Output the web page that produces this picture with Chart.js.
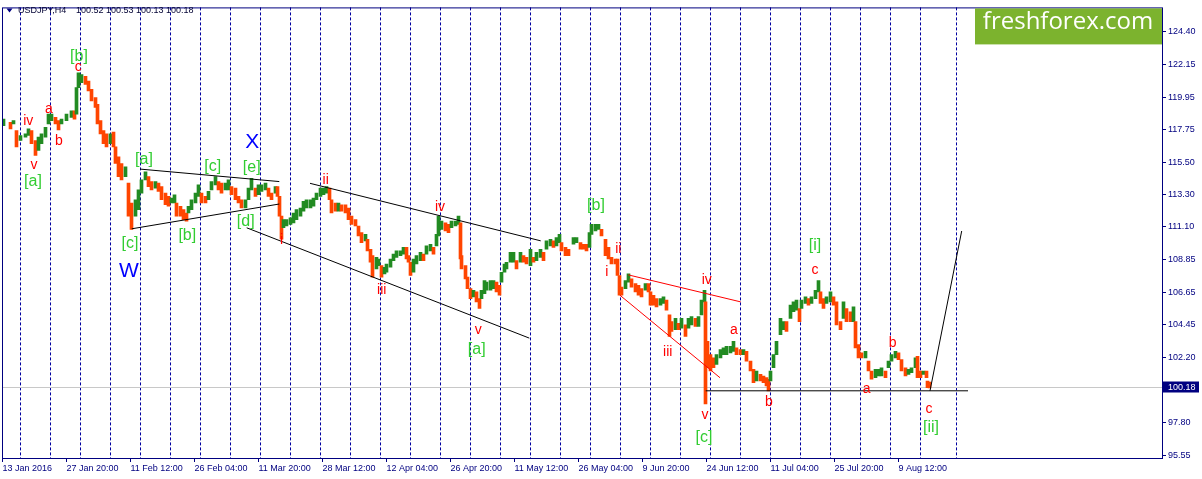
<!DOCTYPE html>
<html>
<head>
<meta charset="utf-8">
<title>USDJPY,H4</title>
<script src="https://cdn.jsdelivr.net/npm/chart.js@4.4.1/dist/chart.umd.min.js"></script>
<style>
  html, body { margin: 0; padding: 0; background: #fff; }
  #wrap { width: 1202px; height: 479px; }
</style>
</head>
<body>
<div id="wrap"><canvas id="myChart" width="1202" height="479"></canvas></div>
<script>
const ctx = document.getElementById('myChart').getContext('2d');

const symbol = 'USDJPY,H4';
// open, high, low, close of the last bar
const lastQuote = [100.52, 100.53, 100.13, 100.18];

// H4 bar number of each sampled stretch of candles, with its high and low
const barIdx = [
  1, 8, 11, 14, 18, 23, 26, 29, 33, 36, 39, 43, 46, 49, 53, 56, 59, 64, 69, 72,
  74, 76, 79, 83, 86, 89, 93, 95, 98, 101, 104, 108, 111, 113, 116, 119, 123, 126, 129, 133,
  136, 139, 143, 146, 149, 153, 156, 159, 163, 166, 169, 172, 174, 178, 181, 184, 186, 189, 193, 196,
  199, 203, 206, 209, 213, 216, 219, 223, 226, 229, 233, 236, 239, 243, 246, 249, 253, 256, 259, 263,
  266, 269, 273, 275, 277, 279, 281, 284, 288, 291, 294, 298, 301, 304, 308, 311, 314, 318, 321, 324,
  327, 329, 333, 336, 339, 343, 346, 349, 353, 356, 359, 363, 365, 368, 370, 374, 376, 379, 382, 384,
  388, 391, 394, 398, 401, 404, 406, 408, 411, 414, 418, 421, 424, 428, 431, 434, 436, 439, 443, 446,
  449, 453, 456, 458, 459, 463, 465, 468, 471, 474, 477, 479, 482, 484, 488, 491, 494, 497, 499, 502,
  504, 508, 511, 514, 518, 521, 524, 528, 531, 534, 538, 541, 544, 548, 551, 554, 557, 559, 563, 566,
  571, 574, 578, 581, 584, 587, 589, 593, 596, 599, 603, 606, 609, 613, 615, 617, 619, 623, 626, 629,
  633, 636, 639, 643, 646, 648, 651, 654, 658, 661, 664, 667, 669, 673, 676, 679, 683, 686, 689, 693,
  696, 699, 702, 703, 705, 708, 711, 714, 718, 721, 724, 728, 731, 734, 738, 741, 744, 748, 751, 754,
  758, 761, 764, 766, 768, 771, 774, 778, 781, 784, 788, 791, 794, 797, 799, 803, 806, 809, 813, 816,
  818, 821, 824, 828, 831, 834, 838, 841, 844, 848, 851, 853, 856, 859, 863, 866, 869, 873, 876, 879,
  883, 886, 889, 893, 896, 899, 903, 906, 909, 913, 915, 918, 921, 924, 925, 927
];
const highs = [
  118.45, 118.23, 118.34, 117.67, 117.33, 117.44, 117.78, 117.67, 116.99, 117.22, 117.44, 117.89, 118.79, 118.79, 118.57, 118.34, 118.45, 118.79, 119.01, 119.01,
  120.59, 121.60, 121.48, 121.37, 121.03, 120.47, 119.91, 119.46, 118.34, 117.67, 117.44, 117.44, 117.56, 116.55, 115.87, 115.42, 115.20, 114.08, 112.73, 112.95,
  113.62, 114.30, 114.86, 114.53, 114.19, 114.19, 114.08, 113.85, 113.40, 113.18, 113.07, 113.29, 112.73, 112.51, 112.28, 112.05, 112.51, 112.95, 113.40, 113.96,
  113.40, 113.18, 113.52, 114.19, 114.53, 114.19, 114.08, 114.08, 114.30, 113.85, 113.74, 113.18, 112.95, 112.95, 113.74, 114.41, 113.74, 113.96, 113.96, 114.08,
  113.74, 113.40, 113.85, 113.85, 113.18, 111.83, 111.60, 111.60, 111.72, 112.05, 112.28, 112.39, 112.84, 112.95, 112.95, 113.07, 113.40, 113.74, 113.74, 113.85,
  113.74, 112.95, 112.73, 112.73, 112.61, 112.61, 112.39, 111.83, 111.60, 111.16, 110.71, 110.59, 110.26, 109.58, 109.14, 109.02, 108.91, 108.46, 108.35, 108.57,
  108.91, 109.25, 109.47, 109.47, 109.70, 109.70, 109.14, 108.69, 108.91, 109.14, 109.36, 109.25, 109.81, 109.92, 109.70, 110.59, 111.83, 111.49, 111.38, 111.27,
  111.49, 111.49, 111.83, 111.38, 109.14, 108.46, 107.68, 106.89, 106.78, 106.67, 106.21, 106.78, 107.45, 107.34, 107.45, 107.45, 107.34, 107.12, 108.01, 108.57,
  108.69, 109.36, 109.36, 108.80, 109.36, 109.14, 109.02, 109.58, 109.02, 109.36, 109.58, 109.36, 110.15, 110.26, 110.15, 110.37, 110.59, 110.03, 109.70, 109.58,
  110.37, 110.37, 110.03, 109.92, 109.92, 110.71, 111.27, 111.27, 111.27, 110.93, 110.26, 109.70, 109.02, 108.91, 108.91, 107.79, 107.00, 107.45, 107.90, 107.56,
  107.23, 107.12, 106.89, 107.23, 107.23, 106.67, 106.44, 106.21, 106.21, 106.33, 106.11, 105.10, 104.64, 104.87, 104.53, 104.87, 104.42, 104.87, 104.98, 104.87,
  104.98, 106.11, 106.78, 105.99, 103.30, 102.40, 102.17, 102.40, 102.74, 102.85, 102.96, 102.96, 103.30, 102.85, 102.74, 102.74, 102.62, 101.95, 101.39, 101.28,
  101.05, 100.94, 100.83, 100.72, 101.28, 102.40, 103.30, 104.87, 104.64, 104.64, 105.77, 105.99, 106.11, 105.54, 106.11, 106.33, 106.21, 106.33, 106.78, 107.45,
  106.67, 106.21, 106.33, 106.67, 106.33, 105.99, 104.64, 105.99, 105.54, 105.32, 105.65, 104.64, 103.08, 102.51, 102.62, 101.95, 101.28, 101.39, 101.39, 101.50,
  101.28, 101.95, 102.40, 102.62, 102.51, 102.06, 101.50, 101.39, 101.50, 102.17, 102.28, 101.28, 101.28, 101.28, 100.60, 100.53
];
const lows = [
  118.00, 117.78, 118.12, 116.55, 116.99, 117.22, 117.33, 116.77, 115.98, 116.32, 116.77, 117.22, 118.12, 118.34, 118.12, 117.71, 118.12, 118.34, 118.57, 118.45,
  118.79, 120.59, 120.93, 120.81, 120.36, 119.69, 119.24, 118.12, 117.44, 116.77, 116.55, 116.77, 116.55, 115.42, 114.53, 114.30, 114.53, 111.83, 110.93, 111.83,
  112.28, 113.40, 114.30, 113.85, 113.62, 113.74, 113.52, 112.95, 112.61, 112.51, 112.73, 112.73, 111.83, 111.83, 111.60, 111.49, 112.05, 112.28, 112.73, 113.18,
  112.73, 112.73, 112.95, 113.62, 113.96, 113.62, 113.40, 113.62, 113.62, 113.29, 112.95, 112.73, 112.39, 112.39, 112.95, 113.62, 113.18, 113.29, 113.52, 113.62,
  113.18, 112.95, 113.40, 113.18, 111.83, 110.26, 111.04, 111.16, 111.27, 111.38, 111.60, 111.83, 112.17, 112.39, 112.39, 112.51, 112.95, 113.18, 113.29, 113.40,
  112.95, 112.05, 112.17, 112.17, 112.17, 112.05, 111.60, 111.27, 111.16, 110.48, 110.03, 110.15, 109.47, 108.69, 107.68, 108.24, 108.46, 107.68, 107.90, 108.01,
  108.35, 108.80, 109.02, 109.14, 109.25, 108.91, 108.69, 107.79, 108.01, 108.57, 108.80, 108.80, 109.25, 109.47, 109.25, 109.81, 110.48, 110.93, 110.82, 110.71,
  111.04, 111.16, 111.27, 108.91, 108.24, 107.56, 106.89, 106.21, 106.33, 105.99, 105.54, 106.21, 106.55, 106.78, 106.78, 106.89, 106.67, 106.44, 107.34, 108.01,
  108.24, 108.69, 108.69, 108.24, 108.69, 108.69, 108.57, 108.46, 108.69, 108.80, 109.02, 108.80, 109.58, 109.81, 109.70, 109.81, 110.03, 109.47, 109.14, 109.14,
  109.92, 110.03, 109.58, 109.58, 109.47, 109.70, 110.59, 110.82, 110.93, 110.48, 109.14, 108.91, 108.57, 108.57, 107.79, 106.44, 106.44, 106.89, 107.34, 107.00,
  106.67, 106.44, 106.33, 106.78, 106.67, 105.77, 105.77, 105.65, 105.77, 105.88, 105.43, 103.63, 103.97, 104.09, 104.09, 104.19, 103.63, 104.19, 104.42, 104.31,
  104.31, 105.10, 105.99, 99.03, 101.50, 101.28, 101.50, 101.73, 102.17, 102.40, 102.40, 102.51, 102.62, 102.40, 102.40, 102.40, 101.95, 101.28, 100.49, 100.60,
  100.60, 100.49, 100.27, 99.93, 100.60, 101.50, 102.40, 103.75, 104.09, 103.97, 104.87, 105.32, 105.43, 104.64, 105.54, 105.88, 105.77, 105.88, 106.21, 106.67,
  105.88, 105.54, 105.88, 105.99, 105.77, 104.42, 104.09, 104.87, 104.64, 104.64, 104.64, 102.85, 102.17, 102.17, 102.17, 101.28, 100.72, 100.83, 100.94, 100.94,
  100.83, 101.50, 101.95, 102.17, 102.06, 101.28, 100.94, 101.05, 101.16, 101.50, 100.83, 100.83, 101.05, 100.83, 100.15, 100.13
];

const timeTicks = [0, 64, 128, 192, 256, 320, 384, 448, 512, 576, 640, 704, 768, 832, 896];
const timeLabels = ['13 Jan 2016', '27 Jan 20:00', '11 Feb 12:00', '26 Feb 04:00', '11 Mar 20:00',
  '28 Mar 12:00', '12 Apr 04:00', '26 Apr 20:00', '11 May 12:00', '26 May 04:00',
  '9 Jun 20:00', '24 Jun 12:00', '11 Jul 04:00', '25 Jul 20:00', '9 Aug 12:00'];
const priceTicks = [124.40, 122.15, 119.95, 117.75, 115.50, 113.30, 111.10, 108.85,
  106.65, 104.45, 102.20, 100.00, 97.80, 95.55];
// bars where a new week starts (period separators)
const weekStarts = [18, 48, 78, 108, 138, 168, 198, 228, 258, 288, 318, 348, 378, 408, 438, 468,
  498, 528, 558, 588, 618, 648, 678, 708, 738, 768, 798, 828, 858, 888, 918, 954];

// wave marks: text, bar, price
const minorWaves = [
  ['iv', 25.8, 118.34], ['a', 46.5, 119.13], ['v', 31.5, 115.29], ['b', 56.5, 116.97],
  ['c', 75.8, 121.97], ['i', 279, 110.17], ['ii', 323.2, 114.30], ['iii', 379.2, 106.78],
  ['iv', 437.5, 112.44], ['v', 475.8, 104.08], ['ii', 615.8, 109.58], ['i', 604.2, 108.01],
  ['iv', 704.2, 107.45], ['iii', 665.2, 102.58], ['a', 731.5, 104.08], ['v', 702.5, 98.24],
  ['b', 766.5, 99.14], ['c', 812.5, 108.13], ['a', 864.2, 100.04], ['b', 890.2, 103.18],
  ['c', 926.5, 98.70]
];
const majorWaves = [
  ['[a]', 30.5, 114.21], ['[b]', 76.5, 122.72], ['[a]', 141.5, 115.69], ['[c]', 210.2, 115.24],
  ['[e]', 249.2, 115.13], ['[d]', 243.2, 111.49], ['[b]', 184.8, 110.48], ['[c]', 127.5, 109.96],
  ['[a]', 474.2, 102.74], ['[b]', 593.5, 112.57], ['[c]', 701.5, 96.76], ['[i]', 812.5, 109.81],
  ['[ii]', 928.5, 97.42]
];
const cycleWaves = [['W', 126.5, 108.08], ['X', 249.8, 116.88]];

// trend lines: bar1, price1, bar2, price2
const blackLines = [
  [137.5, 115.04, 276.8, 114.19],
  [129.2, 110.97, 276.8, 112.66],
  [244.2, 111.04, 526.8, 103.52],
  [307.5, 114.07, 538.2, 110.15],
  [703.2, 99.93, 965.5, 99.93],
  [927.5, 99.93, 959.2, 110.82]
];
const redLines = [
  [625.8, 107.83, 738.2, 105.99],
  [617.5, 106.44, 717.5, 100.82]
];

const UP = '#228b22';
const DOWN = '#ff4500';
const NAVY = '#000080';
const FONT = "'Liberation Sans', Arial, sans-serif";

const candles = barIdx.map((b, i) => ({ x: b, y: [lows[i], highs[i]] }));
const mids = barIdx.map((b, i) => (lows[i] + highs[i]) / 2);
const candleColors = mids.map((m, i) => (i === 0 || m >= mids[i - 1]) ? UP : DOWN);

const lineSet = (seg, color) => ({
  type: 'line',
  data: [{ x: seg[0], y: seg[1] }, { x: seg[2], y: seg[3] }],
  borderColor: color,
  borderWidth: 1,
  pointRadius: 0,
  fill: false,
  order: 1
});

const mt4Decor = {
  id: 'mt4Decor',
  beforeDraw(chart) {
    const c = chart.ctx;
    c.save();
    c.fillStyle = '#fff';
    c.fillRect(0, 0, chart.width, chart.height);
    c.restore();
  },
  beforeDatasetsDraw(chart) {
    const { ctx: c, chartArea: a, scales: { x, y } } = chart;
    c.save();
    c.strokeStyle = '#0000a0';
    c.lineWidth = 1;
    c.setLineDash([3, 2]);
    weekStarts.forEach(b => {
      const px = Math.floor(x.getPixelForValue(b)) + 0.5;
      c.beginPath();
      c.moveTo(px, a.top);
      c.lineTo(px, a.bottom);
      c.stroke();
    });
    c.setLineDash([]);
    const py = Math.floor(y.getPixelForValue(lastQuote[3])) + 0.5;
    c.strokeStyle = '#c8c8c8';
    c.beginPath();
    c.moveTo(a.left, py);
    c.lineTo(a.right, py);
    c.stroke();
    c.restore();
  },
  afterDatasetsDraw(chart) {
    const { ctx: c, scales: { x, y } } = chart;
    const put = (list, color, size) => {
      c.fillStyle = color;
      c.font = size + 'px ' + FONT;
      list.forEach(([t, b, p]) => c.fillText(t, x.getPixelForValue(b), y.getPixelForValue(p)));
    };
    c.save();
    c.textAlign = 'center';
    c.textBaseline = 'middle';
    put(minorWaves, '#ff0000', 14);
    put(majorWaves, '#32cd32', 16);
    put(cycleWaves, '#0000ff', 21);
    c.restore();
  },
  afterDraw(chart) {
    const { ctx: c, chartArea: a, scales: { y } } = chart;
    c.save();
    // frame
    c.strokeStyle = NAVY;
    c.lineWidth = 1;
    c.strokeRect(a.left + 0.5, a.top + 0.5, a.right - a.left, a.bottom - a.top);

    // header
    c.fillStyle = NAVY;
    c.beginPath();
    c.moveTo(6.5, 8.5);
    c.lineTo(12.5, 8.5);
    c.lineTo(9.5, 12.5);
    c.closePath();
    c.fill();
    c.fillStyle = '#000033';
    c.font = '9px ' + FONT;
    c.textBaseline = 'middle';
    c.textAlign = 'left';
    c.fillText(symbol, 18, 11);
    c.fillText(lastQuote.map(v => v.toFixed(2)).join(' '), 76, 11);

    // watermark
    c.fillStyle = '#7cb32e';
    c.fillRect(975, a.top + 1, a.right - 975, 36);
    c.fillStyle = '#ffffff';
    c.font = "24px 'Open Sans', sans-serif";
    c.textAlign = 'center';
    c.textBaseline = 'alphabetic';
    c.fillText('freshforex.com', 1068, 29);

    // last price box
    const py = y.getPixelForValue(lastQuote[3]);
    c.fillStyle = NAVY;
    c.fillRect(a.right + 1, Math.round(py) - 5.5, 36, 11);
    c.fillStyle = '#ffffff';
    c.font = '9px ' + FONT;
    c.textAlign = 'left';
    c.textBaseline = 'middle';
    c.fillText(lastQuote[3].toFixed(2), a.right + 6, py);
    c.restore();
  }
};

const chart = new Chart(ctx, {
  type: 'bar',
  data: {
    datasets: [
      {
        type: 'bar',
        data: candles,
        backgroundColor: candleColors,
        borderWidth: 0,
        barThickness: 3,
        grouped: false,
        order: 2
      },
      ...blackLines.map(s => lineSet(s, '#000000')),
      ...redLines.map(s => lineSet(s, '#ff0000'))
    ]
  },
  options: {
    responsive: false,
    animation: false,
    events: [],
    layout: { padding: { left: 2, top: 2, right: 0, bottom: 0 } },
    plugins: {
      legend: { display: false },
      tooltip: { enabled: false },
      title: { display: false }
    },
    scales: {
      x: {
        type: 'linear',
        position: 'bottom',
        min: -0.5,
        max: 1159.5,
        offset: false,
        afterBuildTicks: scale => { scale.ticks = timeTicks.map(v => ({ value: v })); },
        afterFit: scale => { scale.height = 21; },
        grid: { drawOnChartArea: false, drawTicks: true, tickLength: 4, color: NAVY, offset: false },
        border: { display: false },
        ticks: {
          autoSkip: false,
          maxRotation: 0,
          align: 'start',
          padding: 1,
          color: NAVY,
          font: { family: FONT, size: 9 },
          callback: (v, i) => timeLabels[i]
        }
      },
      y: {
        type: 'linear',
        position: 'right',
        min: 95.35,
        max: 126.06,
        afterBuildTicks: scale => { scale.ticks = priceTicks.map(v => ({ value: v })); },
        afterFit: scale => { scale.width = 40; },
        grid: { drawOnChartArea: false, drawTicks: true, tickLength: 4, color: NAVY },
        border: { display: false },
        ticks: {
          autoSkip: false,
          padding: 2,
          color: NAVY,
          font: { family: FONT, size: 9 },
          callback: v => v.toFixed(2)
        }
      }
    }
  },
  plugins: [mt4Decor]
});
</script>
</body>
</html>
